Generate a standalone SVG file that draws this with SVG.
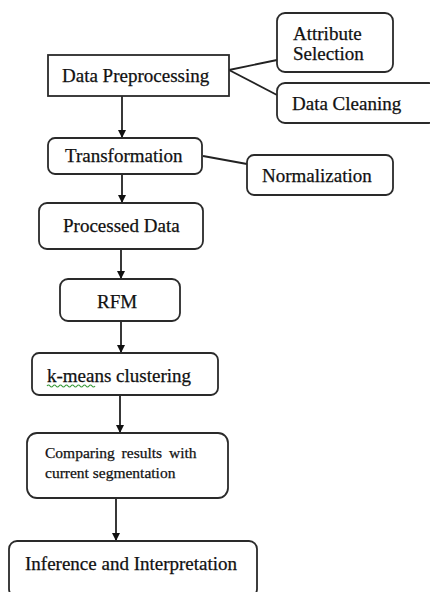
<svg xmlns="http://www.w3.org/2000/svg" width="430" height="592" viewBox="0 0 430 592">
<defs>
<marker id="ah" viewBox="0 0 10 10" refX="10" refY="5" markerWidth="8" markerHeight="9" markerUnits="userSpaceOnUse" orient="auto">
<path d="M0,0 L10,5 L0,10 z" fill="#111"/>
</marker>
<style>
.box{fill:#fff;stroke:#2a2a2a;stroke-width:1.8}
.t{font-family:"Liberation Serif","Times New Roman",serif;font-size:19px;fill:#111;stroke:#111;stroke-width:0.25}
.ts{font-family:"Liberation Serif","Times New Roman",serif;font-size:15.5px;fill:#111;stroke:#111;stroke-width:0.25}
.c{stroke:#222;stroke-width:1.8;fill:none}
</style>
</defs>
<rect width="430" height="592" fill="#fff"/>
<g id="connectors">
<line class="c" x1="229" y1="70" x2="277" y2="60"/>
<line class="c" x1="229" y1="70" x2="277" y2="95"/>
<line class="c" x1="203" y1="156" x2="247" y2="164"/>
<line class="c" x1="122" y1="96" x2="122" y2="138" marker-end="url(#ah)"/>
<line class="c" x1="122" y1="174" x2="122" y2="203" marker-end="url(#ah)"/>
<line class="c" x1="121" y1="249" x2="121" y2="279" marker-end="url(#ah)"/>
<line class="c" x1="121" y1="321" x2="121" y2="353" marker-end="url(#ah)"/>
<line class="c" x1="120" y1="395" x2="120" y2="433" marker-end="url(#ah)"/>
<line class="c" x1="116" y1="498" x2="116" y2="541" marker-end="url(#ah)"/>
</g>
<g id="data-preprocessing">
<rect class="box" x="48" y="55" width="181" height="41"/>
<text class="t" x="62" y="82">Data Preprocessing</text>
</g>
<g id="attribute-selection">
<rect class="box" x="277" y="13" width="116" height="59" rx="8"/>
<text class="t" x="293" y="40">Attribute</text>
<text class="t" x="293" y="60">Selection</text>
</g>
<g id="data-cleaning">
<rect class="box" x="277" y="83" width="160" height="40" rx="8"/>
<text class="t" x="292" y="110">Data Cleaning</text>
</g>
<g id="transformation">
<rect class="box" x="48" y="138" width="154" height="36" rx="7"/>
<text class="t" x="65" y="162">Transformation</text>
</g>
<g id="normalization">
<rect class="box" x="247" y="155" width="146" height="40" rx="7"/>
<text class="t" x="262" y="182">Normalization</text>
</g>
<g id="processed-data">
<rect class="box" x="39" y="203" width="164" height="46" rx="8"/>
<text class="t" x="63" y="232">Processed Data</text>
</g>
<g id="rfm">
<rect class="box" x="60" y="279" width="120" height="42" rx="8"/>
<text class="t" x="97" y="308">RFM</text>
</g>
<g id="k-means">
<rect class="box" x="32" y="353" width="186" height="42" rx="7"/>
<text class="t" x="47" y="382">k-means clustering</text>
<path d="M47,386 q1.5,-2 3,0 t3,0 t3,0 t3,0 t3,0 t3,0 t3,0 t3,0 t3,0 t3,0 t3,0 t3,0 t3,0 t3,0 t3,0 t3,0" fill="none" stroke="#3a9a3a" stroke-width="1.2"/>
</g>
<g id="comparing">
<rect class="box" x="27" y="433" width="201" height="65" rx="10"/>
<text class="ts" x="45" y="458" word-spacing="3">Comparing results with</text>
<text class="ts" x="45" y="478">current segmentation</text>
</g>
<g id="inference">
<rect class="box" x="9" y="541" width="248" height="56" rx="8"/>
<text class="t" x="25" y="570">Inference and Interpretation</text>
</g>
</svg>
